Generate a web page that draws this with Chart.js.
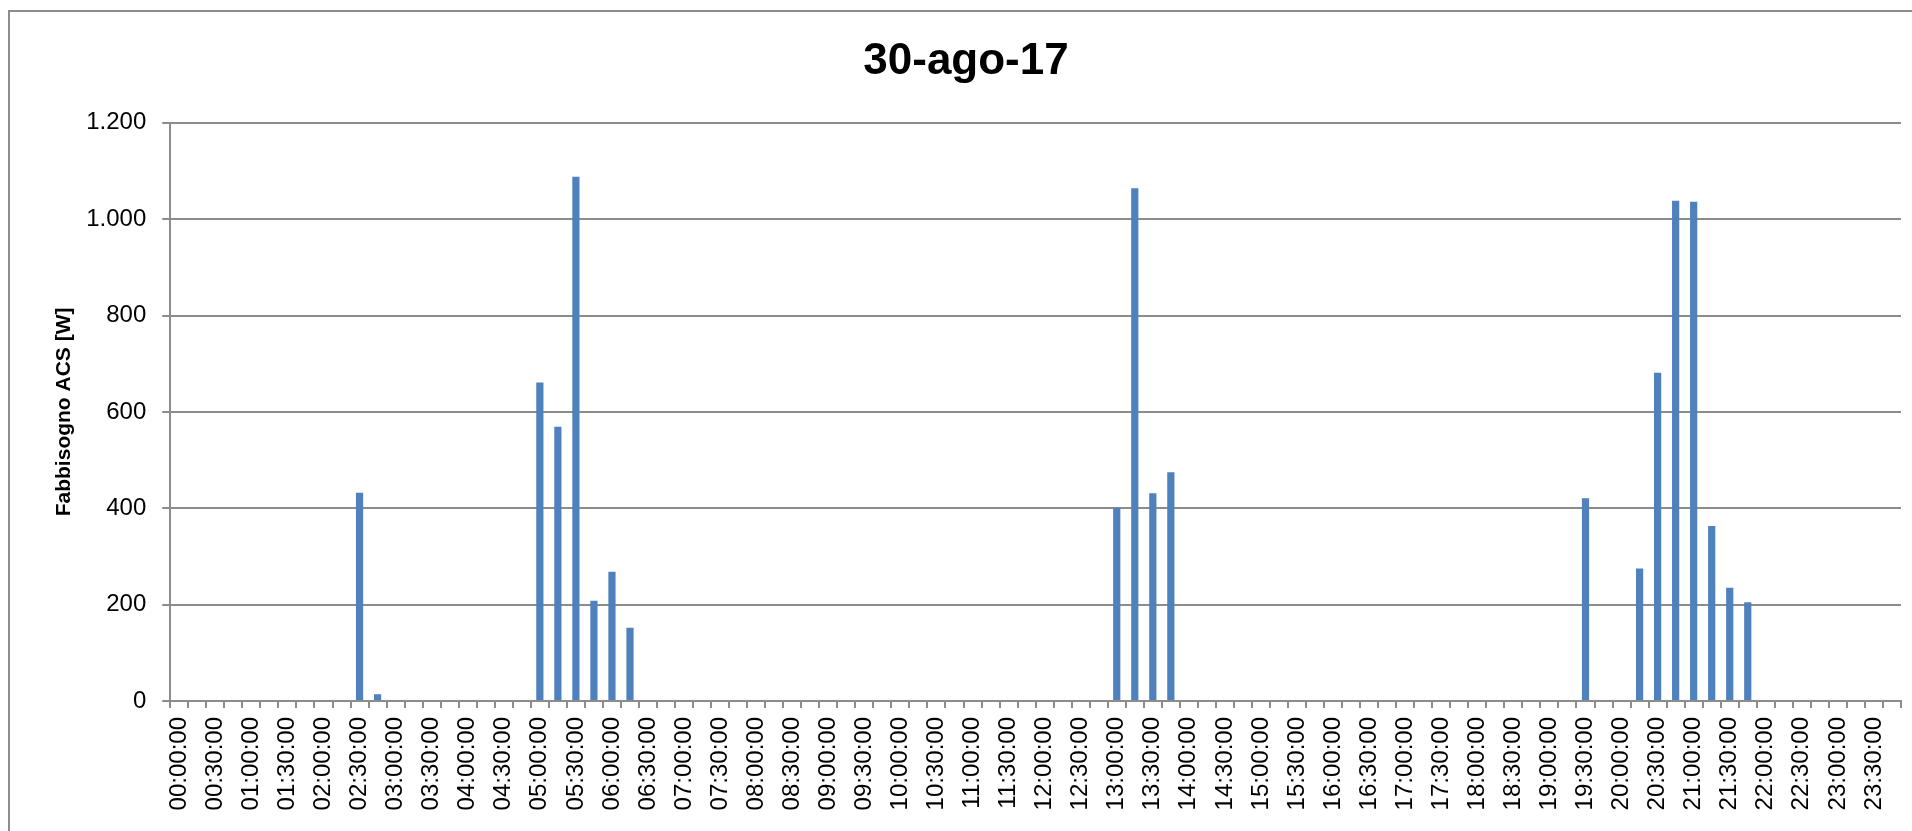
<!DOCTYPE html>
<html>
<head>
<meta charset="utf-8">
<title>30-ago-17</title>
<script src="https://cdn.jsdelivr.net/npm/chart.js@4/dist/chart.umd.min.js"></script>
<style>
  html, body { margin: 0; padding: 0; background: #ffffff; overflow: hidden; }
  #wrap { position: relative; width: 1912px; height: 831px; }
  #frame { position: absolute; left: 8px; top: 10px; width: 1940px; height: 860px; border: 2px solid #8c8c8c; box-sizing: border-box; }
  #chart { position: absolute; left: 0; top: 0; }
</style>
</head>
<body>
<div id="wrap">
  <div id="frame"></div>
  <canvas id="chart" width="1912" height="831"></canvas>
</div>
<script>
// Quarter-hour time slots of the day
const categories = [
  '00:00:00','00:15:00','00:30:00','00:45:00','01:00:00','01:15:00','01:30:00','01:45:00',
  '02:00:00','02:15:00','02:30:00','02:45:00','03:00:00','03:15:00','03:30:00','03:45:00',
  '04:00:00','04:15:00','04:30:00','04:45:00','05:00:00','05:15:00','05:30:00','05:45:00',
  '06:00:00','06:15:00','06:30:00','06:45:00','07:00:00','07:15:00','07:30:00','07:45:00',
  '08:00:00','08:15:00','08:30:00','08:45:00','09:00:00','09:15:00','09:30:00','09:45:00',
  '10:00:00','10:15:00','10:30:00','10:45:00','11:00:00','11:15:00','11:30:00','11:45:00',
  '12:00:00','12:15:00','12:30:00','12:45:00','13:00:00','13:15:00','13:30:00','13:45:00',
  '14:00:00','14:15:00','14:30:00','14:45:00','15:00:00','15:15:00','15:30:00','15:45:00',
  '16:00:00','16:15:00','16:30:00','16:45:00','17:00:00','17:15:00','17:30:00','17:45:00',
  '18:00:00','18:15:00','18:30:00','18:45:00','19:00:00','19:15:00','19:30:00','19:45:00',
  '20:00:00','20:15:00','20:30:00','20:45:00','21:00:00','21:15:00','21:30:00','21:45:00',
  '22:00:00','22:15:00','22:30:00','22:45:00','23:00:00','23:15:00','23:30:00','23:45:00'
];

// Domestic hot water demand [W] per slot
const fabbisognoACS = [
  0, 0, 0, 0, 0, 0, 0, 0,
  0, 0, 432, 14, 0, 0, 0, 0,
  0, 0, 0, 0, 661, 569, 1088, 208,
  268, 152, 0, 0, 0, 0, 0, 0,
  0, 0, 0, 0, 0, 0, 0, 0,
  0, 0, 0, 0, 0, 0, 0, 0,
  0, 0, 0, 0, 401, 1064, 431, 475,
  0, 0, 0, 0, 0, 0, 0, 0,
  0, 0, 0, 0, 0, 0, 0, 0,
  0, 0, 0, 0, 0, 0, 421, 0,
  0, 275, 681, 1038, 1036, 363, 235, 205,
  0, 0, 0, 0, 0, 0, 0, 0
];

// Half-hour labels shown on the time axis
const xTickLabels = [
  '00:00:00','00:30:00','01:00:00','01:30:00','02:00:00','02:30:00','03:00:00','03:30:00',
  '04:00:00','04:30:00','05:00:00','05:30:00','06:00:00','06:30:00','07:00:00','07:30:00',
  '08:00:00','08:30:00','09:00:00','09:30:00','10:00:00','10:30:00','11:00:00','11:30:00',
  '12:00:00','12:30:00','13:00:00','13:30:00','14:00:00','14:30:00','15:00:00','15:30:00',
  '16:00:00','16:30:00','17:00:00','17:30:00','18:00:00','18:30:00','19:00:00','19:30:00',
  '20:00:00','20:30:00','21:00:00','21:30:00','22:00:00','22:30:00','23:00:00','23:30:00'
];

// Value axis ticks and their formatted labels
const yTickValues = [0, 200, 400, 600, 800, 1000, 1200];
const yTickLabels = ['0', '200', '400', '600', '800', '1.000', '1.200'];

const FONT = "'Liberation Sans', Arial, sans-serif";
const GRID = '#8c8c8c';

new Chart(document.getElementById('chart'), {
  type: 'bar',
  data: {
    labels: categories,
    datasets: [{
      label: 'Fabbisogno ACS [W]',
      data: fabbisognoACS,
      backgroundColor: '#4F81BD',
      borderWidth: 0,
      categoryPercentage: 1.0,
      barPercentage: 0.4
    }]
  },
  options: {
    responsive: false,
    animation: false,
    devicePixelRatio: 1,
    layout: { padding: { left: 31, right: 11, top: 0, bottom: 0 } },
    plugins: {
      legend: { display: false },
      tooltip: { enabled: false },
      title: {
        display: true,
        text: '30-ago-17',
        color: '#000000',
        font: { family: FONT, size: 44, weight: 'bold', lineHeight: 1.2 },
        padding: { top: 35, bottom: 35 }
      }
    },
    scales: {
      x: {
        type: 'category',
        offset: true,
        grid: {
          offset: true,
          drawOnChartArea: false,
          drawTicks: true,
          tickLength: 7,
          color: GRID,
          lineWidth: 2
        },
        border: { display: true, color: GRID, width: 2 },
        ticks: {
          autoSkip: false,
          minRotation: 90,
          maxRotation: 90,
          padding: 9,
          color: '#000000',
          font: { family: FONT, size: 24 },
          callback: function (value, index) {
            const lab = categories[index];
            return xTickLabels.includes(lab) ? lab : '';
          }
        },
        afterFit: function (scale) {
          scale.height = 130;
          scale.paddingLeft = 0;
          scale.paddingRight = 0;
        }
      },
      y: {
        min: 0,
        max: 1200,
        grid: {
          drawTicks: true,
          tickLength: 8,
          color: GRID,
          lineWidth: 2
        },
        border: { display: true, color: GRID, width: 2 },
        ticks: {
          stepSize: 200,
          padding: 16,
          color: '#000000',
          font: { family: FONT, size: 24 },
          callback: function (value) {
            const i = yTickValues.indexOf(value);
            return i >= 0 ? yTickLabels[i] : '';
          }
        },
        title: {
          display: true,
          text: 'Fabbisogno ACS [W]',
          color: '#000000',
          font: { family: FONT, size: 21, weight: 'bold', lineHeight: 1.2 },
          padding: { top: 21, bottom: -7 }
        }
      }
    }
  }
});
</script>
</body>
</html>
